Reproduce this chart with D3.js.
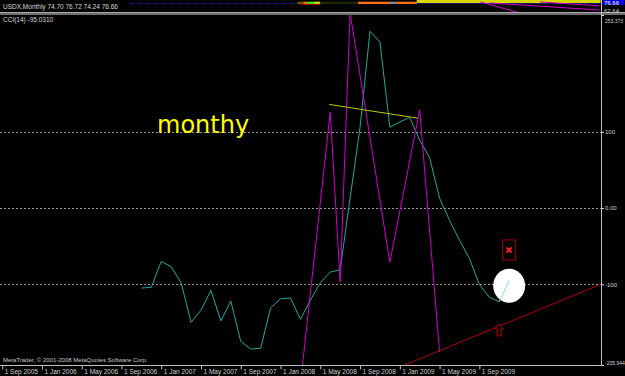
<!DOCTYPE html>
<html>
<head>
<meta charset="utf-8">
<script src="https://cdn.jsdelivr.net/npm/d3@7"></script>
<style>
body { margin: 0; background: #000; }
svg { display: block; }
text { font-family: "Liberation Sans", Arial, sans-serif; }
</style>
</head>
<body>
<div id="chart"></div>
<script>
// month index 0 = 1 Sep 2005
var tickMonths = [0, 4, 8, 12, 16, 20, 24, 28, 32, 36, 40, 44, 48];
var tickLabels = ["1 Sep 2005", "1 Jan 2006", "1 May 2006", "1 Sep 2006", "1 Jan 2007", "1 May 2007",
	"1 Sep 2007", "1 Jan 2008", "1 May 2008", "1 Sep 2008", "1 Jan 2009", "1 May 2009", "1 Sep 2009"];
var lastMonth = 60.2;

// CCI(14) values, one per month starting at Nov 2006
var cciFirstMonth = 14;
var cciValues = [-105, -104, -70, -77, -98, -150, -134, -108, -148, -122, -175, -185, -184, -131,
	-119, -118, -146, -121, -98, -84, -81, 13, 106, 232, 218, 106, 113, 119, 89, 66,
	13, -16, -42, -66, -100, -117, -123, -95];
var cciLast = -95.0310;
var cciMin = -205.944, cciMax = 253.373;
var cciLevels = [100, 0, -100];
var cciLevelLabels = ["100", "0.00", "-100"];

// hand drawn objects (month, cci value)
var zigMonths = [30.2, 33, 34, 35, 39, 42, 44];
var zigValues = [-207, 126, -97, 256, -71, 129, -189];
var trendMonths = [32.9, 41.8];
var trendValues = [136, 118];
var supportMonths = [40.5, 60.2];
var supportValues = [-206, -100];
var crossMark = [51, -55];
var circleMark = [51, -102];
var arrowMark = [50, -152];

// price window (squeezed)
var priceLow = 62.64, priceHigh = 79.5, priceLast = 76.66;
var ohlc = ["74.70", "76.72", "74.24", "76.66"];
var stripFrom = [29.7, 30.3, 30.7, 31.3, 32.0, 35.8, 39.0, 39.7, 41.7];
var stripTo = [30.3, 30.7, 31.3, 32.0, 35.8, 39.0, 39.7, 41.7, 60.2];
var stripHigh = [77.1, 77.1, 77.1, 77.1, 77.1, 77.1, 77.1, 77.1, 79.5];
var stripLow = [73.9, 73.9, 73.9, 73.9, 73.9, 73.9, 73.9, 73.9, 75.3];
var stripColors = ["#705800", "#ff8000", "#20ff20", "#c0f000", "#1c2a08", "#ff7010", "#8a8a8a", "#ff7010", "#d8d800"];
var priceLinesFrom = [[48.1, 76.8], [49.1, 75.3], [54.1, 76.8]];
var priceLinesTo = [[52.1, 61.2], [60.1, 65.4], [60.1, 71.2]];

var width = 625, height = 376;
var axisX = 601;

var svg = d3.select("#chart").append("svg")
	.attr("width", width)
	.attr("height", height)
	.style("background", "#000");

var x = d3.scaleLinear().domain([0, lastMonth]).range([2.2, 600.6]);
var y = d3.scaleLinear().domain([cciMin, cciMax]).range([365, 15]);
var py = d3.scaleLinear().domain([priceLow, priceHigh]).range([12, 0]);

var defs = svg.append("defs");
defs.append("clipPath").attr("id", "clipCci")
	.append("rect").attr("x", 0).attr("y", 15).attr("width", axisX).attr("height", 350);
defs.append("clipPath").attr("id", "clipPrice")
	.append("rect").attr("x", 0).attr("y", 0).attr("width", axisX).attr("height", 12);

//---- price window ----
var price = svg.append("g").attr("clip-path", "url(#clipPrice)");

price.append("line")
	.attr("x1", 130).attr("x2", axisX)
	.attr("y1", 3.5).attr("y2", 3.5)
	.style("stroke", "#1a1ad0")
	.style("stroke-dasharray", "1,1");

price.selectAll("rect.strip")
	.data(stripFrom)
	.enter().append("rect")
	.attr("class", "strip")
	.attr("x", function (d) { return x(d); })
	.attr("width", function (d, i) { return x(stripTo[i]) - x(d); })
	.attr("y", function (d, i) { return py(stripHigh[i]); })
	.attr("height", function (d, i) { return py(stripLow[i]) - py(stripHigh[i]); })
	.style("fill", function (d, i) { return stripColors[i]; });

price.append("line")
	.attr("x1", x(30)).attr("x2", x(32))
	.attr("y1", py(73.4)).attr("y2", py(73.4))
	.style("stroke", "#c00000");

price.selectAll("line.mline")
	.data(priceLinesFrom)
	.enter().append("line")
	.attr("class", "mline")
	.attr("x1", function (d) { return x(d[0]); })
	.attr("y1", function (d) { return py(d[1]); })
	.attr("x2", function (d, i) { return x(priceLinesTo[i][0]); })
	.attr("y2", function (d, i) { return py(priceLinesTo[i][1]); })
	.style("stroke", "#d000d0");

svg.append("text")
	.attr("x", 3).attr("y", 9)
	.attr("font-size", 6.5)
	.style("fill", "#d8d8d8")
	.text("USDX,Monthly  " + ohlc.join(" "));

// separator between the windows
svg.append("rect").attr("x", 0).attr("y", 12).attr("width", width).attr("height", 3).style("fill", "#6e6e6e");
svg.append("line").attr("x1", 0).attr("x2", width).attr("y1", 12.5).attr("y2", 12.5).style("stroke", "#a8a8a8");

//---- CCI window ----
var cci = svg.append("g").attr("clip-path", "url(#clipCci)");

cci.selectAll("line.level")
	.data(cciLevels)
	.enter().append("line")
	.attr("class", "level")
	.attr("x1", 0).attr("x2", axisX)
	.attr("y1", function (d) { return Math.round(y(d)) + 0.5; })
	.attr("y2", function (d) { return Math.round(y(d)) + 0.5; })
	.style("stroke", "#9a9a9a")
	.style("stroke-dasharray", "2,2");

var cciPoints = cciValues.map(function (v, i) { return [cciFirstMonth + i, v]; });
var line = d3.line()
	.x(function (d) { return x(d[0]); })
	.y(function (d) { return y(d[1]); });

cci.append("path")
	.attr("d", line(cciPoints.slice(0, cciPoints.length - 1)))
	.style("fill", "none")
	.style("stroke", "#20a8a0");

cci.append("path")
	.attr("d", line(zigMonths.map(function (m, i) { return [m, zigValues[i]]; })))
	.style("fill", "none")
	.style("stroke", "#d000d0");

cci.append("path")
	.attr("d", line(trendMonths.map(function (m, i) { return [m, trendValues[i]]; })))
	.style("fill", "none")
	.style("stroke", "#c8c800");

cci.append("path")
	.attr("d", line(supportMonths.map(function (m, i) { return [m, supportValues[i]]; })))
	.style("fill", "none")
	.style("stroke", "#b00000");

// annotations
cci.append("ellipse")
	.attr("cx", x(circleMark[0])).attr("cy", y(circleMark[1]))
	.attr("rx", 16).attr("ry", 17)
	.style("fill", "#ffffff");

cci.append("path")
	.attr("d", line(cciPoints.slice(cciPoints.length - 2)))
	.style("fill", "none")
	.style("stroke", "#80e0e0");

var cx = x(crossMark[0]), cy = y(crossMark[1]);
cci.append("rect")
	.attr("x", cx - 6.5).attr("y", cy - 10)
	.attr("width", 13).attr("height", 20)
	.style("fill", "none")
	.style("stroke", "#a00000");
cci.append("path")
	.attr("d", "M" + (cx - 2.5) + "," + (cy - 2.5) + "L" + (cx + 2.5) + "," + (cy + 2.5)
		+ "M" + (cx + 2.5) + "," + (cy - 2.5) + "L" + (cx - 2.5) + "," + (cy + 2.5))
	.style("stroke", "#ff2020")
	.style("stroke-width", 2);

var ax = x(arrowMark[0]), ay = y(arrowMark[1]);
cci.append("path")
	.attr("d", "M" + ax + "," + ay + "l4,5h-2v7h-4v-7h-2z")
	.style("fill", "#000")
	.style("stroke", "#c00000");

svg.append("text")
	.attr("x", 157).attr("y", 133)
	.attr("font-size", 24)
	.style("font-family", "'DejaVu Sans', sans-serif")
	.style("fill", "#ffff00")
	.text("monthy");

svg.append("text")
	.attr("x", 3).attr("y", 22)
	.attr("font-size", 6.5)
	.style("fill", "#d8d8d8")
	.text("CCI(14) " + cciLast.toFixed(4));

svg.append("text")
	.attr("x", 3).attr("y", 362)
	.attr("font-size", 6)
	.style("fill", "#c8c8c8")
	.text("MetaTrader, \u00a9 2001-2008 MetaQuotes Software Corp.");

//---- axes ----
svg.append("line")
	.attr("x1", axisX + 0.5).attr("x2", axisX + 0.5)
	.attr("y1", 0).attr("y2", 366)
	.style("stroke", "#c0c0c0");

var xAxis = d3.axisBottom(x)
	.tickValues(tickMonths)
	.tickFormat(function (d, i) { return tickLabels[i]; })
	.tickSize(4)
	.tickSizeOuter(0);

var gx = svg.append("g")
	.attr("transform", "translate(0,365.5)")
	.call(xAxis);
gx.select(".domain").attr("d", "M0,0H" + (axisX + 1)).style("stroke", "#c0c0c0");
gx.selectAll(".tick line").style("stroke", "#c0c0c0");
gx.selectAll(".tick text")
	.attr("text-anchor", "start")
	.attr("x", 2).attr("y", 4).attr("dy", "0.71em")
	.attr("font-size", 6.5)
	.style("font-family", "'Liberation Sans', Arial, sans-serif")
	.style("fill", "#d0d0d0");

var yTicks = [cciMax].concat(cciLevels).concat([cciMin]);
var yLabels = ["253.373"].concat(cciLevelLabels).concat(["-205.944"]);
var yAxis = d3.axisRight(y)
	.tickValues(yTicks)
	.tickFormat(function (d, i) { return yLabels[i]; })
	.tickSize(2)
	.tickPadding(1);

var gy = svg.append("g")
	.attr("transform", "translate(" + (axisX + 1) + ",0)")
	.call(yAxis);
gy.select(".domain").remove();
gy.selectAll(".tick line").style("stroke", "#e0e0e0");
gy.selectAll(".tick text")
	.style("font-family", "'Liberation Sans', Arial, sans-serif")
	.style("fill", "#d0d0d0")
	// the long end labels get a smaller size so they stay inside the window
	.attr("font-size", function (d, i) { return (i === 0 || i === yTicks.length - 1) ? 5 : 6; })
	.attr("dy", function (d, i) { return i === 0 ? "1.5em" : (i === yTicks.length - 1 ? "-0.2em" : "0.32em"); });

// price window scale labels
svg.append("rect")
	.attr("x", axisX + 1.5).attr("y", 0)
	.attr("width", 22).attr("height", 5)
	.style("fill", "#0000e0");
svg.append("text")
	.attr("x", axisX + 3).attr("y", 5)
	.attr("font-size", 6)
	.style("fill", "#ffffff")
	.text(priceLast.toFixed(2));
svg.append("text")
	.attr("x", axisX + 3).attr("y", py(priceLow) + 1)
	.attr("font-size", 6)
	.style("fill", "#d0d0d0")
	.text(priceLow.toFixed(2));
</script>
</body>
</html>
